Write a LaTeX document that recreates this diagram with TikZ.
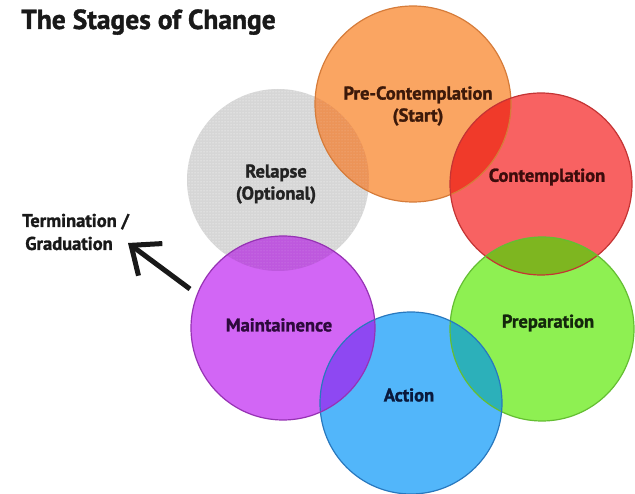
\documentclass[tikz,border=0pt]{standalone}
\usepackage{fontspec}
\setmainfont{PT Sans}
\newfontfamily\labelfont[FakeBold=1.4]{PT Sans Bold}
\newfontfamily\titlefont[FakeBold=1.4]{PT Sans Bold}
\usetikzlibrary{patterns,arrows.meta}
\definecolor{cgray}{RGB}{214,214,214}
\definecolor{corange}{RGB}{250,165,98}
\definecolor{cred}{RGB}{248,98,98}
\definecolor{cgreen}{RGB}{142,240,82}
\definecolor{cblue}{RGB}{82,182,250}
\definecolor{cpurple}{RGB}{210,102,245}
\definecolor{dorange}{RGB}{214,124,58}
\definecolor{dred}{RGB}{196,52,52}
\definecolor{dgreen}{RGB}{100,190,50}
\definecolor{dblue}{RGB}{40,120,190}
\definecolor{dpurple}{RGB}{150,50,180}
\definecolor{xog}{RGB}{236,148,88}
\definecolor{xor}{RGB}{240,58,42}
\definecolor{xrg}{RGB}{126,182,32}
\definecolor{xgb}{RGB}{44,176,186}
\definecolor{xbp}{RGB}{142,72,242}
\definecolor{xpg}{RGB}{190,88,222}
\definecolor{tpre}{RGB}{60,25,10}
\definecolor{tcon}{RGB}{60,12,12}
\definecolor{tprep}{RGB}{20,40,12}
\definecolor{tact}{RGB}{10,25,60}
\definecolor{tmain}{RGB}{45,10,60}
\definecolor{trel}{RGB}{35,35,35}
\begin{document}
\begin{tikzpicture}[x=1pt,y=-1pt,
  stage/.style={circle, minimum size=#1, inner sep=0pt},
  edge/.style={line width=1.2pt},
  lbl/.style={font=\labelfont\fontsize{18.5}{22}\selectfont, align=center, inner sep=0pt},
  side/.style={font=\labelfont\fontsize{18.5}{23}\selectfont, align=left, inner sep=0pt},
]
\useasboundingbox (0,0) rectangle (635,494);
\fill[white] (0,0) rectangle (635,494);

% circles (fills)
\node[stage=182pt, preaction={fill=cgray}, pattern=dots, pattern color=white] (rel) at (278,180) {};
\node[stage=196pt, fill=corange] (pre) at (413,104) {};
\begin{scope}
  \clip (pre.center) circle (98pt);
  \fill[xog] (rel.center) circle (91pt);
  \fill[pattern=dots, pattern color=white, fill opacity=0.35] (rel.center) circle (91pt);
\end{scope}
\node[stage=182pt, fill=cred] (con) at (541,184) {};
\begin{scope}
  \clip (pre.center) circle (98pt);
  \fill[xor] (con.center) circle (91pt);
\end{scope}
\node[stage=184pt, fill=cgreen] (prep) at (542,329) {};
\begin{scope}
  \clip (con.center) circle (91pt);
  \fill[xrg] (prep.center) circle (92pt);
\end{scope}
\node[stage=182pt, fill=cblue] (act) at (411,403) {};
\begin{scope}
  \clip (prep.center) circle (92pt);
  \fill[xgb] (act.center) circle (91pt);
\end{scope}
\node[stage=184pt, fill=cpurple] (main) at (283,328) {};
\begin{scope}
  \clip (act.center) circle (91pt);
  \fill[xbp] (main.center) circle (92pt);
\end{scope}
\begin{scope}
  \clip (main.center) circle (92pt);
  \fill[xpg] (rel.center) circle (91pt);
  \fill[pattern=dots, pattern color=white, fill opacity=0.3] (rel.center) circle (91pt);
\end{scope}

% outlines
\draw[edge, dorange] (pre.center) circle (98pt);
\draw[edge, dred] (con.center) circle (91pt);
\draw[edge, dgreen] (prep.center) circle (92pt);
\draw[edge, dblue] (act.center) circle (91pt);
\draw[edge, dpurple] (main.center) circle (92pt);

% labels
\node[lbl, text=tpre] (lpre) at (418,106) {Pre-Contemplation\\(Start)};
\node[lbl, text=tcon] (lcon) at (547,177) {Contemplation};
\node[lbl, text=tprep] (lprep) at (548,323) {Preparation};
\node[lbl, text=tact] (lact) at (409,395) {Action};
\node[lbl, text=tmain] (lmain) at (279,325) {Maintainence};
\node[lbl, text=trel] (lrel) at (276,184) {Relapse\\(Optional)};

% title
\node[anchor=base west, inner sep=0pt, font=\titlefont\fontsize{27.5}{30}\selectfont, text=black!90] (title) at (21,29) {The Stages of Change};

% termination
\node[side, anchor=west, text=black!90] (term) at (22,232) {Termination /\\\,Graduation};
\coordinate (atail) at (190,289);
\coordinate (ahead) at (128,243);
\draw[line width=5pt, black!90, -{Straight Barb[length=24pt,width=40pt,line width=5pt]}] (atail) -- (ahead);
\end{tikzpicture}
\end{document}
